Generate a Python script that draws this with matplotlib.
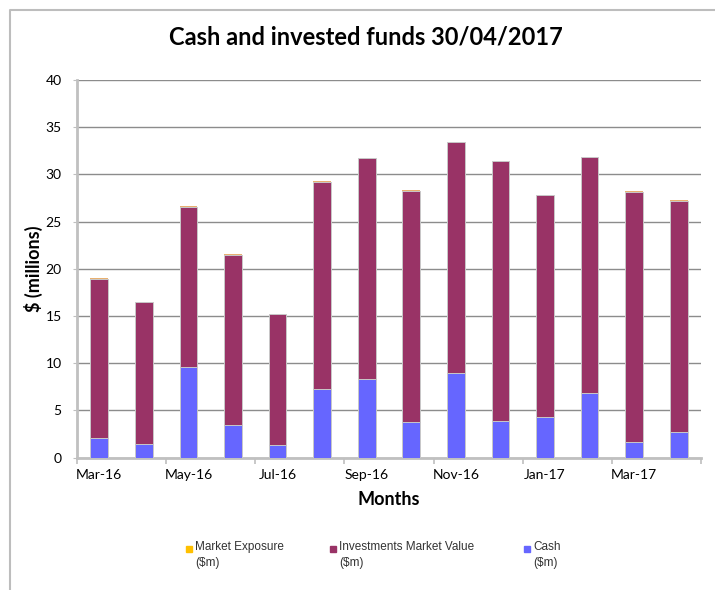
import matplotlib
matplotlib.use("Agg")
import matplotlib.pyplot as plt
import numpy as np
from matplotlib.patches import Rectangle
from matplotlib.lines import Line2D

# Data ($ millions)
months = ["Mar-16", "Apr-16", "May-16", "Jun-16", "Jul-16", "Aug-16", "Sep-16",
          "Oct-16", "Nov-16", "Dec-16", "Jan-17", "Feb-17", "Mar-17", "Apr-17"]
cash = [2.05, 1.45, 9.65, 3.5, 1.3, 7.3, 8.3, 3.8, 8.95, 3.9, 4.35, 6.9, 1.65, 2.75]
investments = [16.85, 15.0, 16.95, 18.0, 13.9, 21.9, 23.4, 24.45, 24.5, 27.5, 23.45, 24.95, 26.5, 24.45]
market_exposure = [0.1, 0.03, 0.1, 0.03, 0.03, 0.1, 0.06, 0.1, 0.03, 0.06, 0.06, 0.03, 0.06, 0.08]

labels = ["Market Exposure\n($m)", "Investments Market Value\n($m)", "Cash\n($m)"]
colors = {"exposure": "#FFC000", "invest": "#993366", "cash": "#6666FF"}

plt.rcParams['font.family'] = ['Lato', 'DejaVu Sans']

W, H = 715, 590
fig = plt.figure(figsize=(W / 100, H / 100), dpi=100)
ax = fig.add_axes([77 / W, 1 - 457.7 / H, (701 - 77) / W, (457.7 - 80) / H])

x = np.arange(len(months))
edge = dict(edgecolor="#c8c8c8", linewidth=0.7, width=0.4)
ax.bar(x, cash, color=colors["cash"], zorder=3, **edge)
ax.bar(x, investments, bottom=cash, color=colors["invest"], zorder=3, **edge)
tops = np.array(cash) + np.array(investments)
ax.bar(x, market_exposure, bottom=tops, color="#E8B070", zorder=3,
       edgecolor="none", width=0.4)

ax.set_xlim(-0.5, len(months) - 0.5)
ax.set_ylim(0, 40)
ax.set_yticks(range(0, 41, 5))
ax.yaxis.grid(True, color="#8c8c8c", linewidth=1.0, zorder=0)
ax.set_axisbelow(True)

# category axis: labels every other month, tick marks between categories
ax.set_xticks(x[::2])
ax.set_xticklabels(months[::2], fontsize=10)
ax.set_xticks(np.arange(-0.5, len(months), 2), minor=True)
ax.tick_params(axis="x", which="major", length=0, pad=8)
ax.tick_params(axis="x", which="minor", length=4, color="#bfbfbf", width=1.2)
ax.tick_params(axis="y", length=3, color="#bfbfbf", labelsize=10, pad=8)

for s in ["top", "right"]:
    ax.spines[s].set_visible(False)
for s in ["left", "bottom"]:
    ax.spines[s].set_color("#c0c0c0")
    ax.spines[s].set_linewidth(2)

ax.set_ylabel("$ (millions)", fontsize=13, fontweight="bold", labelpad=2)
ax.set_xlabel("Months", fontsize=13, fontweight="bold", labelpad=7)

fig.text(366 / W, 1 - 37 / H, "Cash and invested funds 30/04/2017",
         fontsize=17, fontweight="bold", ha="center", va="center")

# border (top and left sides visible)
fig.add_artist(Line2D([10 / W, 10 / W, 1.0], [0.0, 1 - 10 / H, 1 - 10 / H],
                      transform=fig.transFigure, color="#bdbdbd", linewidth=1.5))

# legend
leg_x = [189, 333, 527]
leg_c = [colors["exposure"], colors["invest"], colors["cash"]]
for lx, c, lab in zip(leg_x, leg_c, labels):
    fig.add_artist(Rectangle(((lx - 3) / W, 1 - 551.5 / H), 6 / W, 6 / H,
                             transform=fig.transFigure, color=c))
    fig.text((lx + 6) / W, 1 - 541 / H, lab, fontsize=8.5, va="top", ha="left",
             family=["Liberation Sans", "DejaVu Sans"], color="#333333",
             linespacing=1.45)

fig.savefig("out.png", dpi=100)
